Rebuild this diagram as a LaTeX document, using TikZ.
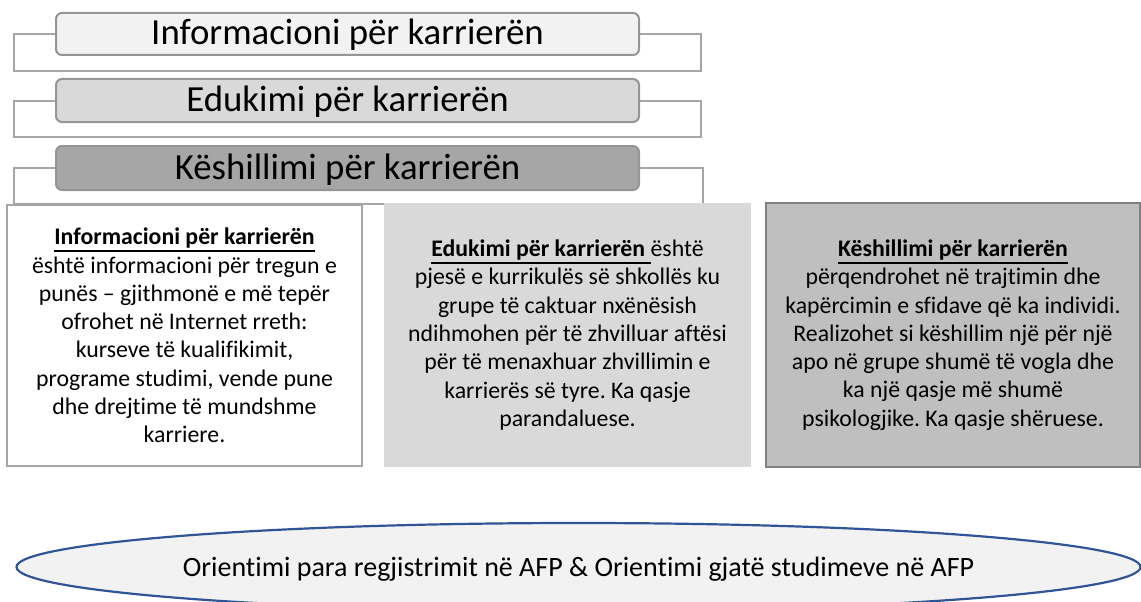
\documentclass[tikz,border=0pt]{standalone}
\usepackage{fontspec}
\setmainfont{Carlito}[Ligatures={NoCommon,NoDiscretionary,NoRare}]
\usetikzlibrary{shapes.geometric}
\frenchspacing
\definecolor{bracketgray}{HTML}{A6A6A6}
\definecolor{hdrline}{HTML}{959595}
\definecolor{hdrfillA}{HTML}{F2F2F2}
\definecolor{hdrfillB}{HTML}{D9D9D9}
\definecolor{hdrfillC}{HTML}{A6A6A6}
\definecolor{boxAline}{HTML}{A6A6A6}
\definecolor{boxBfill}{HTML}{D9D9D9}
\definecolor{boxCfill}{HTML}{BFBFBF}
\definecolor{boxCline}{HTML}{808080}
\definecolor{ovalfill}{HTML}{F2F2F2}
\definecolor{ovalline}{HTML}{2F5597}
\newcommand{\ulx}[1]{\leavevmode\setbox0\hbox{#1}\rlap{\vrule width\wd0 height -5.6pt depth 7.6pt}\box0}
\begin{document}
\begin{tikzpicture}[x=1pt,y=-1pt,
  hdr/.style={draw=hdrline, line width=2pt, rounded corners=6pt, minimum width=583pt,
    inner sep=0pt, text height=22pt, text depth=0pt,
    font=\fontsize{36.8}{44}\selectfont},
  bracket/.style={draw=bracketgray, line width=2pt},
  cbox/.style={line width=2pt, align=center, inner sep=0pt,
    font=\fontsize{23.8}{28.3}\selectfont},
  oval/.style={ellipse, draw=ovalline, fill=ovalfill, line width=2.2pt, inner sep=0pt,
    minimum width=1124pt, minimum height=88pt, text height=18pt, text depth=0pt,
    font=\fontsize{28}{34}\selectfont}
]
\clip (0,0) rectangle (1141,602);
% header bars
\node[hdr, fill=hdrfillA, minimum height=42pt] (h1) at (347.5,34) {Informacioni për karrierën};
\node[hdr, fill=hdrfillB, minimum height=43pt] (h2) at (347.5,100.5) {Edukimi për karrierën};
\node[hdr, fill=hdrfillC, minimum height=44pt] (h3) at (347.5,168) {Këshillimi për karrierën};
% brackets
\draw[bracket] (h1.west) -| (14,71) -| (701,34) -- (h1.east);
\draw[bracket] (h2.west) -| (14,137) -| (701,100.5) -- (h2.east);
\draw[bracket] (h3.west) -| (14,204) -| (703,168) -- (h3.east);
% content boxes
\node[cbox, draw=boxAline, fill=white, minimum width=355pt, minimum height=261pt] (ca) at (184.5,335.5) {%
\ulx{\textbf{Informacioni për karrierën}}\\
është informacioni për tregun e\\
punës – gjithmonë e më tepër\\
ofrohet në Internet rreth:\\
kurseve të kualifikimit,\\
programe studimi, vende pune\\
dhe drejtime të mundshme\\
karriere.};
\node[cbox, fill=boxBfill, minimum width=367pt, minimum height=264pt] (cb) at (567.5,335) {%
\ulx{\textbf{Edukimi për karrierën}\ }është\\
pjesë e kurrikulës së shkollës ku\\
grupe të caktuar nxënësish\\
ndihmohen për të zhvilluar aftësi\\
për të menaxhuar zhvillimin e\\
karrierës së tyre. Ka qasje\\
parandaluese.};
\node[cbox, draw=boxCline, fill=boxCfill, minimum width=374pt, minimum height=264pt] (cc) at (953,335) {%
\ulx{\textbf{Këshillimi për karrierën}}\\
përqendrohet në trajtimin dhe\\
kapërcimin e sfidave që ka individi.\\
Realizohet si këshillim një për një\\
apo në grupe shumë të vogla dhe\\
ka një qasje më shumë\\
psikologjike. Ka qasje shëruese.};
% oval
\node[oval] (orient) at (578.5,567) {Orientimi para regjistrimit në AFP \& Orientimi gjatë studimeve në AFP};
\end{tikzpicture}
\end{document}
